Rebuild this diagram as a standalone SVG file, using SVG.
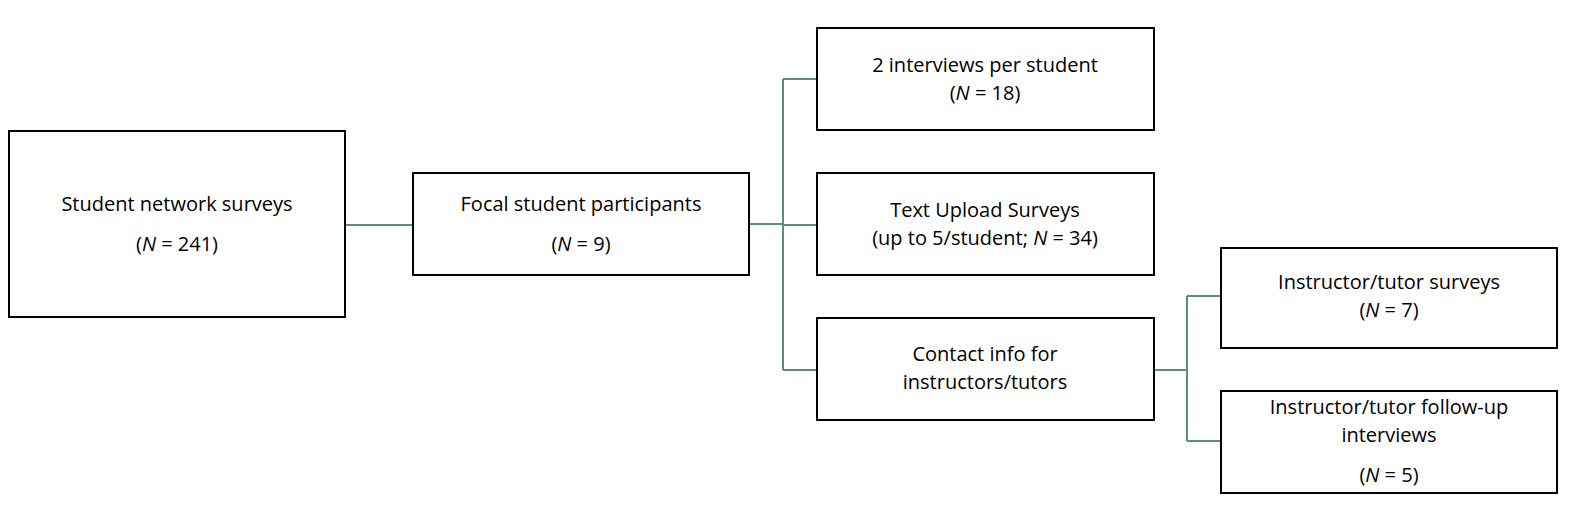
<svg xmlns="http://www.w3.org/2000/svg" width="1594" height="531" viewBox="0 0 1594 531">
<style>
.b{fill:#fff;stroke:#000;stroke-width:2}
.t{font-family:"Open Sans","Liberation Sans",sans-serif;font-size:20px;fill:#000;text-anchor:middle}
.c{fill:none;stroke:#5b8f7c;stroke-width:2}
</style>
<rect width="1594" height="531" fill="#fff"/>
<g id="connectors">
<path class="c" d="M345,225H413"/>
<path class="c" d="M749,224H783M783,79V370M783,79H817M783,225H817M783,370H817"/>
<path class="c" d="M1154,370H1187M1187,296V441M1187,296H1221M1187,441H1221"/>
</g>
<g id="n1"><rect class="b" x="9" y="131" width="336" height="186"/>
<text class="t" x="177" y="211">Student network surveys</text>
<text class="t" x="177" y="251">(<tspan font-style="italic">N</tspan> = 241)</text></g>
<g id="n2"><rect class="b" x="413" y="173" width="336" height="102"/>
<text class="t" x="581" y="211">Focal student participants</text>
<text class="t" x="581" y="251">(<tspan font-style="italic">N</tspan> = 9)</text></g>
<g id="n3"><rect class="b" x="817" y="28" width="337" height="102"/>
<text class="t" x="985" y="72">2 interviews per student</text>
<text class="t" x="985" y="100">(<tspan font-style="italic">N</tspan> = 18)</text></g>
<g id="n4"><rect class="b" x="817" y="173" width="337" height="102"/>
<text class="t" x="985" y="217">Text Upload Surveys</text>
<text class="t" x="985" y="245">(up to 5/student; <tspan font-style="italic">N</tspan> = 34)</text></g>
<g id="n5"><rect class="b" x="817" y="318" width="337" height="102"/>
<text class="t" x="985" y="361">Contact info for</text>
<text class="t" x="985" y="389">instructors/tutors</text></g>
<g id="n6"><rect class="b" x="1221" y="248" width="336" height="100"/>
<text class="t" x="1389" y="289">Instructor/tutor surveys</text>
<text class="t" x="1389" y="317">(<tspan font-style="italic">N</tspan> = 7)</text></g>
<g id="n7"><rect class="b" x="1221" y="391" width="336" height="102"/>
<text class="t" x="1389" y="414">Instructor/tutor follow-up</text>
<text class="t" x="1389" y="442">interviews</text>
<text class="t" x="1389" y="482">(<tspan font-style="italic">N</tspan> = 5)</text></g>
</svg>
